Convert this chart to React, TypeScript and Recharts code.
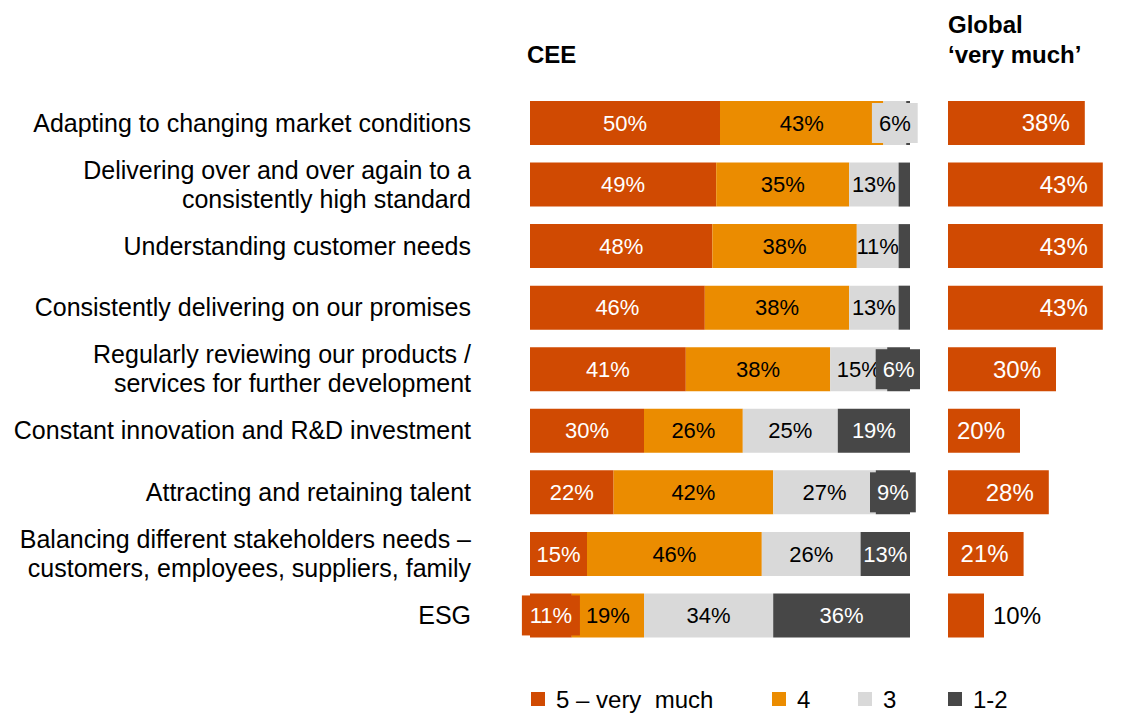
import React from 'react';
import { BarChart, Bar, XAxis, YAxis, LabelList } from 'recharts';

const categories = [
  'Adapting to changing market conditions',
  'Delivering over and over again to a\nconsistently high standard',
  'Understanding customer needs',
  'Consistently delivering on our promises',
  'Regularly reviewing our products /\nservices for further development',
  'Constant innovation and R&D investment',
  'Attracting and retaining talent',
  'Balancing different stakeholders needs –\ncustomers, employees, suppliers, family',
  'ESG',
];
const veryMuch = [50, 49, 48, 46, 41, 30, 22, 15, 11];
const four = [43, 35, 38, 38, 38, 26, 42, 46, 19];
const three = [6, 13, 11, 13, 15, 25, 27, 26, 34];
const oneTwo = [1, 3, 3, 3, 6, 19, 9, 13, 36];
const globalVeryMuch = [38, 43, 43, 43, 30, 20, 28, 21, 10];

const seriesNames = ['5 – very  much', '4', '3', '1-2'];
const seriesKeys = ['v5', 'v4', 'v3', 'v12'];
const seriesColors = ['#D04A02', '#EB8C00', '#D9D9D9', '#474747'];
const seriesTextColors = ['#FFFFFF', '#000000', '#000000', '#FFFFFF'];

const FONT = '"Liberation Sans", Arial, sans-serif';

const data = categories.map((c, i) => ({
  category: c,
  v5: veryMuch[i],
  v4: four[i],
  v3: three[i],
  v12: oneTwo[i],
  global: globalVeryMuch[i],
}));

const textWidth = (s: string, size: number) => {
  let w = 0;
  for (const ch of s) {
    if (ch === '%') w += 0.889;
    else w += 0.556;
  }
  return w * size;
};

const makeSegLabel = (fill: string, textColor: string) => (props: any) => {
  const { x, y, width, height, value } = props;
  if (value == null || value < 4) return null;
  const fs = 22;
  const txt = `${value}%`;
  const tw = textWidth(txt, fs);
  const cx = Number(x) + Number(width) / 2;
  const cy = Number(y) + Number(height) / 2;
  const white = textColor === '#FFFFFF';
  const needBox = white ? tw + 4 > width : tw > width + 4;
  return (
    <g>
      {needBox && (
        <rect x={cx - tw / 2 - 7} y={Number(y) + 2} width={tw + 14} height={Number(height) - 4} fill={fill} />
      )}
      <text x={cx} y={cy} dy="0.35em" textAnchor="middle" fill={textColor} fontSize={fs} fontFamily={FONT}>
        {txt}
      </text>
    </g>
  );
};

const globalLabel = (props: any) => {
  const { x, y, width, height, value } = props;
  const fs = 24;
  const txt = `${value}%`;
  const tw = textWidth(txt, fs);
  const cy = Number(y) + Number(height) / 2;
  const inside = Number(width) > tw + 20;
  if (inside) {
    return (
      <text x={Number(x) + Number(width) - 15} y={cy} dy="0.35em" textAnchor="end" fill="#FFFFFF" fontSize={fs} fontFamily={FONT}>
        {txt}
      </text>
    );
  }
  return (
    <text x={Number(x) + Number(width) + 9} y={cy} dy="0.35em" textAnchor="start" fill="#000000" fontSize={fs} fontFamily={FONT}>
      {txt}
    </text>
  );
};

const CategoryTick = (props: any) => {
  const { x, y, payload } = props;
  const lines = String(payload.value).split('\n');
  const lh = 29;
  const start = -((lines.length - 1) * lh) / 2;
  return (
    <text x={x} y={y} textAnchor="end" fontSize={25} fill="#000000" fontFamily={FONT}>
      {lines.map((l, i) => (
        <tspan key={i} x={x} y={y + start + i * lh} dy="0.35em">
          {l}
        </tspan>
      ))}
    </text>
  );
};

const legendLeft = [531, 772, 858, 948];

export default function App() {
  return (
    <div style={{ position: 'absolute', left: 0, top: 0, width: 1128, height: 728, background: '#FFFFFF', fontFamily: FONT }}>
      <div style={{ position: 'absolute', left: 0, top: 0 }}>
        <BarChart
          width={920}
          height={728}
          data={data}
          layout="vertical"
          margin={{ top: 92, right: 10, bottom: 82, left: 0 }}
          barCategoryGap={0}
        >
          <XAxis type="number" domain={[0, 100]} hide />
          <YAxis
            type="category"
            dataKey="category"
            width={530}
            tickLine={false}
            axisLine={false}
            tickSize={0}
            tickMargin={59}
            interval={0}
            tick={<CategoryTick />}
          />
          {seriesKeys.map((k, i) => (
            <Bar key={k} dataKey={k} stackId="cee" fill={seriesColors[i]} barSize={44} isAnimationActive={false}>
              <LabelList dataKey={k} content={makeSegLabel(seriesColors[i], seriesTextColors[i])} />
            </Bar>
          ))}
        </BarChart>
      </div>
      <div style={{ position: 'absolute', left: 948, top: 0 }}>
        <BarChart
          width={180}
          height={728}
          data={data}
          layout="vertical"
          margin={{ top: 92, right: 0, bottom: 82, left: 0 }}
        >
          <XAxis type="number" domain={[0, 50]} hide />
          <YAxis type="category" dataKey="category" hide />
          <Bar dataKey="global" fill={seriesColors[0]} barSize={44} isAnimationActive={false}>
            <LabelList dataKey="global" content={globalLabel} />
          </Bar>
        </BarChart>
      </div>
      <svg width={1128} height={728} style={{ position: 'absolute', left: 0, top: 0, pointerEvents: 'none' }}>
        <text x={527} y={63} fontSize={24} fontWeight="bold" fill="#000000" fontFamily={FONT}>CEE</text>
        <text x={948} y={33} fontSize={24} fontWeight="bold" fill="#000000" fontFamily={FONT}>Global</text>
        <text x={948} y={63} fontSize={24} fontWeight="bold" fill="#000000" fontFamily={FONT}>‘very much’</text>
        {seriesNames.map((n, i) => (
          <g key={n}>
            <rect x={legendLeft[i]} y={692} width={14} height={14} fill={seriesColors[i]} />
            <text x={legendLeft[i] + 25} y={708} fontSize={24} fill="#000000" fontFamily={FONT} style={{ whiteSpace: 'pre' }}>
              {n}
            </text>
          </g>
        ))}
      </svg>
    </div>
  );
}
